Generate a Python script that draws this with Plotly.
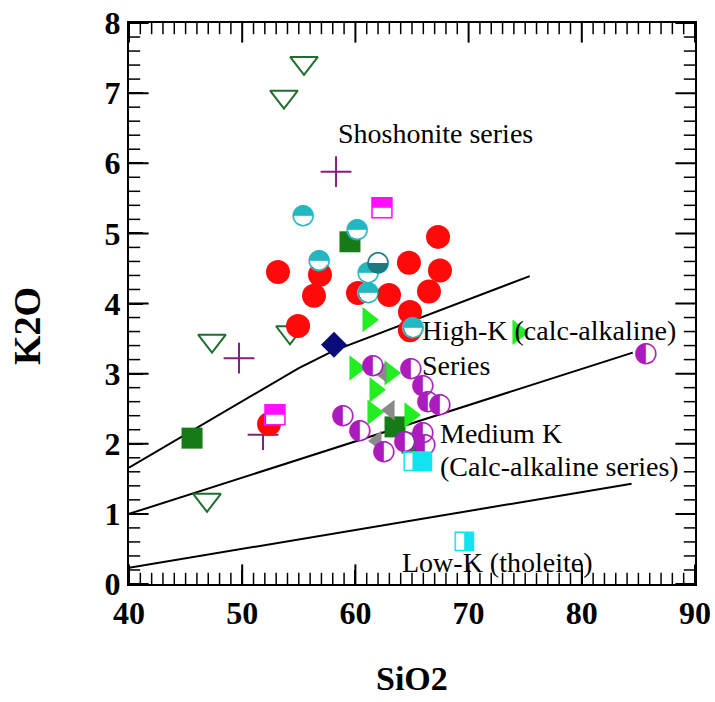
import plotly.graph_objects as go

# ---------------- data (SiO2, K2O) ----------------
red_x = [53.16, 56.87, 56.34, 54.93, 60.23, 62.97, 64.73, 67.30, 67.47, 66.50, 52.37, 64.82, 64.82]
red_y = [4.45, 4.41, 4.11, 3.68, 4.15, 4.12, 4.58, 4.95, 4.47, 4.17, 2.28, 3.88, 3.62]

cyan_half_x = [55.37, 56.78, 60.14, 61.11, 61.11, 65.09]
cyan_half_y = [5.25, 4.61, 5.05, 4.44, 4.15, 3.65]

teal_x = [62.0]
teal_y = [4.58]

purple_half_x = [58.90, 60.41, 61.55, 64.91, 65.97, 66.41, 67.47, 65.97, 66.15, 64.38, 62.53, 85.67]
purple_half_y = [2.40, 2.18, 3.11, 3.07, 2.82, 2.60, 2.55, 2.15, 1.98, 2.03, 1.88, 3.28]

magenta_sq_x = [62.35, 52.90]
magenta_sq_y = [5.36, 2.41]

cyan_sq_x = [69.59, 65.09, 65.88]
cyan_sq_y = [0.60, 1.74, 1.74]

green_sq_x = [59.52, 45.57, 65.0, 63.5]
green_sq_y = [4.88, 2.08, 2.01, 2.24]

open_tri_x = [55.46, 53.69, 47.33, 54.22, 46.89]
open_tri_y = [7.43, 6.95, 3.47, 3.59, 1.20]

plus_x = [58.29, 49.72, 51.84]
plus_y = [5.88, 3.22, 2.13]

diamond_x = [58.11]
diamond_y = [3.41]

lime_x = [59.96, 63.06, 61.73, 61.55, 64.82, 61.11, 74.36]
lime_y = [3.08, 3.01, 2.77, 2.45, 2.41, 3.77, 3.59]

gray_x = [62.35, 63.06, 61.91]
gray_y = [3.02, 2.48, 2.04]

# boundary lines
shosh_x = [40, 55, 58, 75.4]
shosh_y = [1.66, 3.08, 3.32, 4.39]
highk_x = [40, 84.5]
highk_y = [1.0, 3.3]
lowk_x = [40, 84.4]
lowk_y = [0.23, 1.43]

# labels
field_labels = ["Shoshonite series", "High-K (calc-alkaline)", "Series", "Medium K",
                "(Calc-alkaline series)", "Low-K (tholeite)"]
label_x = [58.3, 65.75, 65.75, 67.3, 67.3, 63.9]
label_y = [6.43, 3.62, 3.12, 2.15, 1.67, 0.30]

X_RANGE = [40, 90]
Y_RANGE = [0, 8]

# tick positions (major / minor)
major_x = list(range(40, 91, 10))
minor_x = [v for v in range(40, 91) if v % 10]
major_y = list(range(0, 9))
minor_y = [round(i * 0.2, 1) for i in range(41) if i % 5]

fig = go.Figure()

# tick marks, clipped to the plot area so only the inner half of each shows
def tick_trace(xs, ys, symbol, size, width):
    return go.Scatter(x=xs, y=ys, mode="markers", hoverinfo="skip", showlegend=False,
                      cliponaxis=True,
                      marker=dict(symbol=symbol, size=size, color="black",
                                  line=dict(color="black", width=width)))

for xs, sz, w in [(major_x, 28, 2), (minor_x, 16, 1.5)]:
    fig.add_trace(tick_trace(xs, [Y_RANGE[0]] * len(xs), "line-ns-open", sz, w))
    fig.add_trace(tick_trace(xs, [Y_RANGE[1]] * len(xs), "line-ns-open", sz, w))
for ys, sz, w in [(major_y, 28, 2), (minor_y, 16, 1.5)]:
    fig.add_trace(tick_trace([X_RANGE[0]] * len(ys), ys, "line-ew-open", sz, w))
    fig.add_trace(tick_trace([X_RANGE[1]] * len(ys), ys, "line-ew-open", sz, w))

for lx, ly in [(shosh_x, shosh_y), (highk_x, highk_y), (lowk_x, lowk_y)]:
    fig.add_trace(go.Scatter(x=lx, y=ly, mode="lines", line=dict(color="black", width=2),
                             showlegend=False, hoverinfo="skip"))

def glyph_trace(x, y, glyph, color, size, bg="white", bgsize=18, bgsym="circle"):
    return go.Scatter(x=x, y=y, mode="markers+text", text=[glyph] * len(x),
                      textposition="middle center",
                      textfont=dict(family="DejaVu Sans", size=size, color=color, weight="normal"),
                      marker=dict(symbol=bgsym, size=bgsize, color=bg, line=dict(width=0)),
                      showlegend=False)

fig.add_trace(go.Scatter(x=open_tri_x, y=open_tri_y, mode="markers",
                         marker=dict(symbol="triangle-down-open", size=24, color="#1f6e2f",
                                     line=dict(width=2)), showlegend=False))
fig.add_trace(go.Scatter(x=plus_x, y=plus_y, mode="markers",
                         marker=dict(symbol="cross-thin-open", size=22, color="#80207f",
                                     line=dict(width=2, color="#80207f")), showlegend=False))
fig.add_trace(go.Scatter(x=red_x, y=red_y, mode="markers",
                         marker=dict(symbol="circle", size=24, color="#ff0a0a"), showlegend=False))
fig.add_trace(go.Scatter(x=green_sq_x, y=green_sq_y, mode="markers",
                         marker=dict(symbol="square", size=21, color="#167a16"), showlegend=False))
fig.add_trace(glyph_trace(cyan_half_x, cyan_half_y, "\u25D3", "#22b8c2", 28))
fig.add_trace(glyph_trace(teal_x, teal_y, "\u25D2", "#1a7a80", 28))
fig.add_trace(glyph_trace(magenta_sq_x, magenta_sq_y, "\u2B12", "#ff10ff", 28, bgsym="square"))
fig.add_trace(go.Scatter(x=diamond_x, y=diamond_y, mode="markers",
                         marker=dict(symbol="diamond", size=20, color="#0a0a78"), showlegend=False))
fig.add_trace(go.Scatter(x=lime_x, y=lime_y, mode="markers",
                         marker=dict(symbol="triangle-right", size=22, color="#22ee22"), showlegend=False))
fig.add_trace(go.Scatter(x=gray_x, y=gray_y, mode="markers",
                         marker=dict(symbol="triangle-left", size=18, color="#8a8a8a"), showlegend=False))
fig.add_trace(glyph_trace(purple_half_x, purple_half_y, "\u25D0", "#ac1cbc", 28))
fig.add_trace(glyph_trace(cyan_sq_x, cyan_sq_y, "\u25E8", "#10e4ee", 26, bgsym="square"))

for t, x, y in zip(field_labels, label_x, label_y):
    fig.add_annotation(x=x, y=y, text=t, showarrow=False, xanchor="left", yanchor="middle",
                       font=dict(family="Liberation Serif", size=28, color="black", weight="normal"))

fig.add_annotation(xref="paper", yref="paper", x=(412 - 129) / 566, y=(584 - 678) / 561,
                   text="SiO2", showarrow=False, xanchor="center", yanchor="middle",
                   font=dict(family="Liberation Serif", size=34, color="black", weight="bold"))
fig.add_annotation(xref="paper", yref="paper", x=(27 - 129) / 566, y=(584 - 326) / 561,
                   text="K2O", showarrow=False, textangle=-90, xanchor="center", yanchor="middle",
                   font=dict(family="Liberation Serif", size=38, color="black", weight="bold"))

fig.update_layout(
    template="none", width=715, height=702,
    font=dict(family="Liberation Serif", size=32, color="black", weight="bold"),
    margin=dict(l=129, r=20, t=23, b=118),
    showlegend=False,
    xaxis=dict(range=X_RANGE, dtick=10, showline=True, linecolor="black", linewidth=2,
               mirror=True, ticks="inside", ticklen=14, tickwidth=2, tickcolor="black",
               showgrid=False),
    yaxis=dict(range=Y_RANGE, dtick=1, showline=True, linecolor="black", linewidth=2,
               mirror=True, ticks="inside", ticklen=14, tickwidth=2, tickcolor="black",
               showgrid=False),
)

fig.write_html("out.html", post_script="document.body.style.margin='0';",
               config={"displayModeBar": False})
